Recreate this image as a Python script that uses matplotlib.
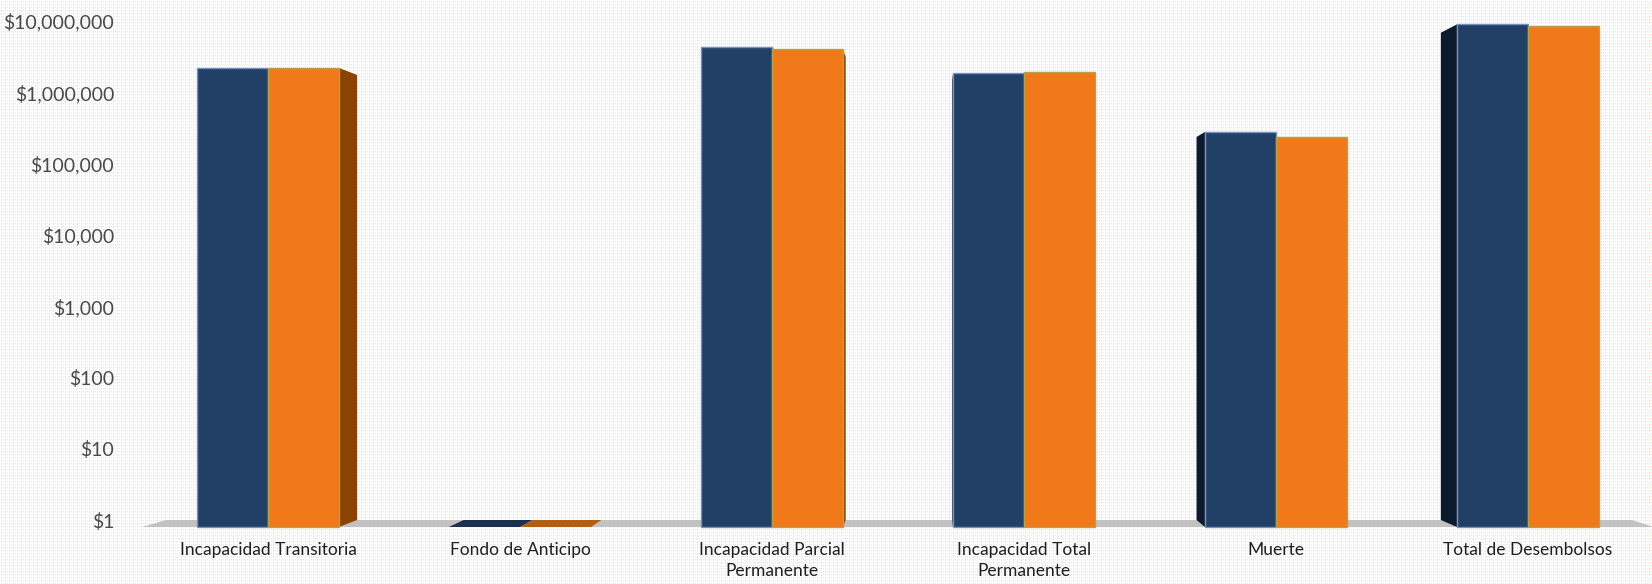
import numpy as np
import matplotlib
matplotlib.use('Agg')
import matplotlib.pyplot as plt
from matplotlib.patches import Polygon
from matplotlib.transforms import IdentityTransform
from matplotlib.ticker import NullLocator

plt.rcParams['font.family'] = ['Lato', 'DejaVu Sans']

# datos (escala logarítmica)
categorias = ['Incapacidad Transitoria', 'Fondo de Anticipo',
              'Incapacidad Parcial\nPermanente', 'Incapacidad Total\nPermanente',
              'Muerte', 'Total de Desembolsos']
serie_azul = [1750000, 1, 3410000, 1480000, 236000, 6850000]
serie_naranja = [1750000, 1, 3140000, 1530000, 201000, 6600000]
ticks_y = [1, 10, 100, 1000, 10000, 100000, 1000000, 10000000]
etiquetas_y = ['$1', '$10', '$100', '$1,000', '$10,000', '$100,000',
               '$1,000,000', '$10,000,000']

W, H = 1652, 584
fig = plt.figure(figsize=(W / 100, H / 100), dpi=100)

# fondo punteado color durazno
fondo = np.ones((H, W, 3))
yy, xx = np.mgrid[0:H, 0:W]
mask = ((xx % 4 == 1) & (yy % 3 != 0)) | ((xx % 4 == 3) & (yy % 3 == 1))
fondo[mask] = [0.99, 0.88, 0.79]
bg = fig.add_axes([0, 0, 1, 1])
bg.imshow(fondo, aspect='auto', interpolation='nearest')
bg.axis('off')

ax = fig.add_axes([142 / W, (H - 520) / H, 1512 / W, 499 / H])
ax.set_yscale('log')
ax.set_ylim(1, 1e7)
ax.set_xlim(-0.5, 5.5)
ax.patch.set_alpha(0)
for s in ax.spines.values():
    s.set_visible(False)
ax.set_yticks(ticks_y)
ax.set_yticklabels(etiquetas_y)
ax.yaxis.set_minor_locator(NullLocator())
ax.tick_params(axis='y', length=0, pad=20, labelsize=14, labelcolor='#4a4a4a')
ax.set_xticks(range(len(categorias)))
ax.set_xticklabels(categorias)
ax.tick_params(axis='x', length=0, pad=16, labelsize=12.5, labelcolor='#1f1f1f')
for lab in ax.get_xticklabels():
    lab.set_linespacing(1.4)

# perspectiva: punto de fuga y profundidad
VX, VY = 929, H - 297.5
T = 0.0305
ident = IdentityTransform()


def y_frente(yb):
    return VY + (yb - VY) / (1 - T)


def x_fondo(xf):
    return xf + T * (VX - xf)


def poly(pts, color, z, ec='none', lw=0):
    ax.add_patch(Polygon(pts, closed=True, facecolor=color, edgecolor=ec,
                         linewidth=lw, transform=ident, clip_on=False, zorder=z))


# piso
x_izq, x_der = ax.get_xlim()
FX0 = ax.transData.transform((x_izq, 1))[0]
FX1 = ax.transData.transform((x_der, 1))[0]
yb0 = ax.transData.transform((0, 1))[1]
poly([(FX0, y_frente(yb0)), (FX1, y_frente(yb0)),
      (x_fondo(FX1), yb0), (x_fondo(FX0), yb0)], '#c2c2c2', 1)

w = 0.282
series = [
    (serie_azul, -1, '#223f66', '#0b1a2c', '#1c2f4f', '#6f93c4'),
    (serie_naranja, 0, '#f07a1a', '#8a4300', '#b35e10', '#b4a04e'),
]
for valores, off, c_frente, c_lado, c_tope, c_borde in series:
    for i, v in enumerate(valores):
        X0 = ax.transData.transform((i + off * w, 1))[0]
        X1 = ax.transData.transform((i + (off + 1) * w, 1))[0]
        yb_top = ax.transData.transform((0, v))[1]
        yf_bot, yf_top = y_frente(yb0), y_frente(yb_top)
        # caras laterales
        if x_fondo(X1) > X1:
            poly([(X1, yf_bot), (X1, yf_top), (x_fondo(X1), yb_top),
                  (x_fondo(X1), yb0)], c_lado, 2)
        if x_fondo(X0) < X0:
            poly([(X0, yf_bot), (X0, yf_top), (x_fondo(X0), yb_top),
                  (x_fondo(X0), yb0)], c_lado, 2)
        # cara superior visible solo bajo el horizonte
        if yb_top > yf_top:
            poly([(X0, yf_top), (X1, yf_top), (x_fondo(X1), yb_top),
                  (x_fondo(X0), yb_top)], c_tope, 2)
        else:
            poly([(X0, yf_bot), (X1, yf_bot), (X1, yf_top), (X0, yf_top)],
                 c_frente, 3, ec=c_borde, lw=1)

fig.savefig('out.png', dpi=100)
